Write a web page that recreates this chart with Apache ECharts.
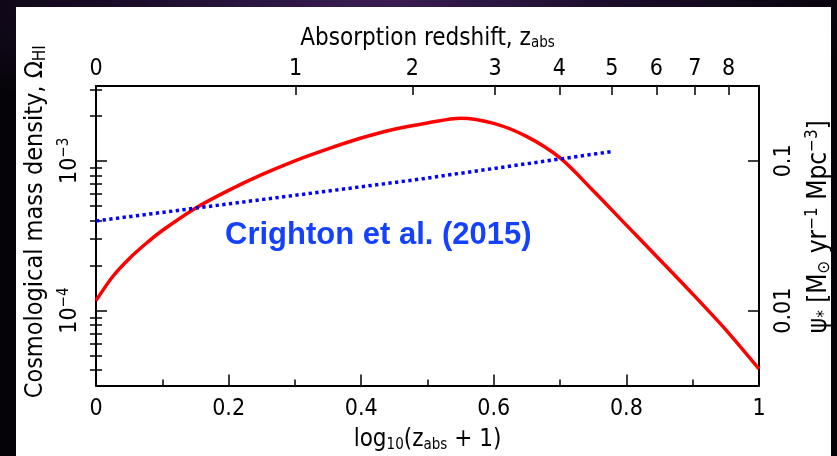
<!DOCTYPE html>
<html><head><meta charset="utf-8">
<script src="https://cdn.jsdelivr.net/npm/echarts@6/dist/echarts.min.js"></script>
<style>
html,body{margin:0;padding:0;width:837px;height:456px;overflow:hidden;
background: radial-gradient(ellipse 60% 30% at 45% 0%, #3b1d55 0%, #1a0d28 50%, #060308 100%);}
#panel{position:absolute;left:16px;top:7px;width:815px;height:449px;background:#fff;}
#chart{position:absolute;left:0;top:0;width:837px;height:456px;}
</style></head><body><div id="panel"></div><div id="chart"></div>
<script>
// x = log10(z_abs + 1)
const redX   = [0, 0.025, 0.05, 0.075, 0.1, 0.15, 0.2, 0.25, 0.3, 0.35, 0.4, 0.45, 0.5, 0.55, 0.6, 0.65, 0.7, 0.75, 0.8, 0.85, 0.9, 0.95, 1.0];
// psi_* [Msun yr^-1 Mpc^-3] (right axis)
const redPsi = [0.01166, 0.01684, 0.02222, 0.02795, 0.03429, 0.04833, 0.06356, 0.08091, 0.1001, 0.1203, 0.1421, 0.1627, 0.1793, 0.1928, 0.1780, 0.1452, 0.1046, 0.06317, 0.03722, 0.02195, 0.01289, 0.007441, 0.004077];
// Omega_HI (left axis), Crighton et al. (2015)
const blueX     = [0, 0.479, 0.777];
const blueOmega = [3.97e-4, 7.45e-4, 1.153e-3];

const topZ = [0, 1, 2, 3, 4, 5, 6, 7, 8];
const topTickZ = [1, 2, 3, 4, 5, 6, 7, 8];
const leftMajor = [1e-4, 1e-3];
const rightMajor = [0.01, 0.1];
const mantissas = [2, 3, 4, 5, 6, 7, 8, 9];
const leftRange = [Math.pow(10, -4.5), Math.pow(10, -2.5)];
const rightRange = [Math.pow(10, -2.5), Math.pow(10, -0.5)];

const FONT = "'Liberation Sans Narrow', 'DejaVu Sans Condensed', 'Liberation Sans', sans-serif";

function minorList(range, decades) {
  const out = [];
  decades.forEach(d => mantissas.forEach(m => {
    const v = +(m * d).toPrecision(6);
    if (v > range[0] && v < range[1]) out.push(v);
  }));
  return out;
}
const leftMinor = minorList(leftRange, [1e-5, 1e-4, 1e-3]);
const rightMinor = minorList(rightRange, [1e-3, 1e-2, 1e-1]);

function supFmt(v) {
  const e = Math.round(Math.log10(v));
  return '10{sup|−' + Math.abs(e) + '}';
}
const labelRich = {
  sup: {fontSize: 15, fontFamily: FONT, color: '#000', padding: [0, 0, 12, 0]}
};
const nameRich = {
  sub: {fontSize: 15, fontFamily: FONT, color: '#000', padding: [10, 0, 0, 0]},
  sup: {fontSize: 15, fontFamily: FONT, color: '#000', padding: [0, 0, 12, 0]}
};
const yNameRich = {
  sub: {fontSize: 17, fontFamily: FONT, color: '#000', padding: [11, 0, 0, 0]},
  sup: {fontSize: 17, fontFamily: FONT, color: '#000', padding: [0, 0, 13, 0]}
};

const lineStyle = {color: '#000', width: 2};
const tickStyle = {color: '#000', width: 1.5};

function yAx(pos, range, major, minor, fmt, name, nameGap, margin, nameSize, namePad) {
  return [
    {
      type: 'log', position: pos, min: range[0], max: range[1],
      axisLine: {show: true, onZero: false, lineStyle},
      axisTick: {show: true, inside: true, length: 11, lineStyle: tickStyle, customValues: major},
      axisLabel: {show: true, customValues: major, rotate: 90, margin: margin, formatter: fmt,
        fontFamily: FONT, fontSize: 23, color: '#000', rich: labelRich},
      splitLine: {show: false},
      name: name, nameLocation: 'middle', nameGap: nameGap, nameRotate: 90,
      nameTextStyle: {fontFamily: FONT, fontSize: nameSize, color: '#000', rich: yNameRich, padding: namePad}
    },
    {
      type: 'log', position: pos, min: range[0], max: range[1],
      axisLine: {show: false},
      axisTick: {show: true, inside: true, length: 6, lineStyle: tickStyle, customValues: minor},
      axisLabel: {show: false},
      splitLine: {show: false}
    }
  ];
}

const chart = echarts.init(document.getElementById('chart'), null, {renderer: 'canvas'});
chart.setOption({
  animation: false,
  backgroundColor: 'transparent',
  grid: {left: 96, right: 78, top: 86, bottom: 70.5, containLabel: false, outerBoundsMode: 'none'},
  xAxis: [
    {
      type: 'value', position: 'bottom', min: 0, max: 1, interval: 0.2,
      axisLine: {show: true, onZero: false, lineStyle},
      axisTick: {show: true, inside: true, length: 11, lineStyle: tickStyle},
      minorTick: {show: true, splitNumber: 2, length: 6, lineStyle: tickStyle},
      axisLabel: {fontFamily: FONT, fontSize: 23, color: '#000', margin: 12},
      splitLine: {show: false},
      name: 'log{sub|10}(z{sub|abs} + 1)', nameLocation: 'middle', nameGap: 42,
      nameTextStyle: {fontFamily: FONT, fontSize: 24, color: '#000', rich: nameRich}
    },
    {
      type: 'value', position: 'top', min: 0, max: 1,
      axisLine: {show: true, onZero: false, lineStyle},
      axisTick: {show: true, inside: true, length: 9, lineStyle: tickStyle,
        customValues: topTickZ.map(z => Math.log10(z + 1))},
      axisLabel: {show: true, customValues: topZ.map(z => Math.log10(z + 1)),
        formatter: v => String(Math.round(Math.pow(10, v) - 1)),
        fontFamily: FONT, fontSize: 23, color: '#000', margin: 5},
      splitLine: {show: false},
      name: 'Absorption redshift, z{sub|abs}', nameLocation: 'middle', nameGap: 35,
      nameTextStyle: {fontFamily: FONT, fontSize: 24, color: '#000', rich: nameRich}
    }
  ],
  yAxis: [
    ...yAx('left', leftRange, leftMajor, leftMinor, supFmt,
      'Cosmological mass density, Ω{sub|HI}', 40, 12, 25, [0, 0, 0, 28]),
    ...yAx('right', rightRange, rightMajor, rightMinor, v => String(v),
      'ψ{sub|*} [M{sub|⊙} yr{sup|−1} Mpc{sup|−3}]', 40, 14, 26, [0, 0, 0, 18])
  ],
  series: [
    {
      type: 'line', xAxisIndex: 0, yAxisIndex: 2, showSymbol: false, smooth: 0.3,
      data: redX.map((x, i) => [x, redPsi[i]]),
      lineStyle: {color: '#ff0000', width: 3.5}, z: 3
    },
    {
      type: 'line', xAxisIndex: 0, yAxisIndex: 0, showSymbol: false,
      data: blueX.map((x, i) => [x, blueOmega[i]]),
      lineStyle: {color: '#0000ff', width: 3.5, type: [3.3, 3.4], cap: 'butt'}, z: 4
    }
  ],
  graphic: [
    {type: 'text', left: 225, top: 220,
      style: {text: 'Crighton et al. (2015)', font: "bold 31px 'Liberation Sans', Arial, sans-serif", fill: '#1441ff'}}
  ]
});
</script></body></html>
